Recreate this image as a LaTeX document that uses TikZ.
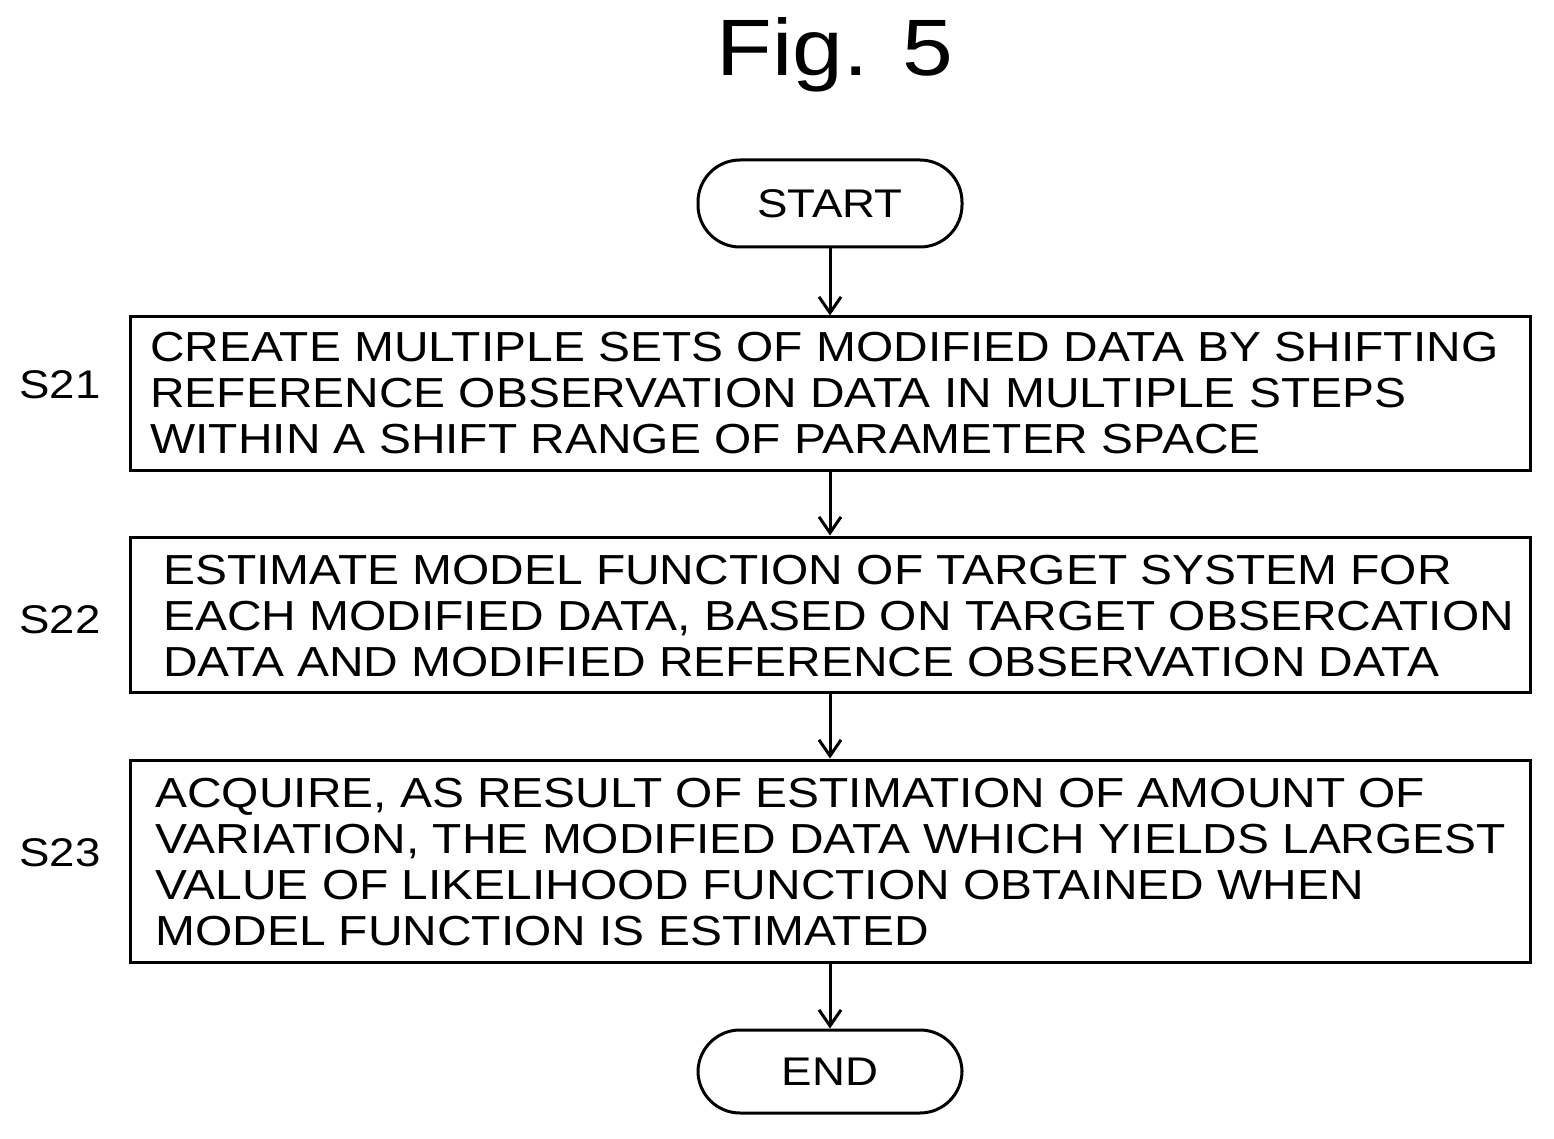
\documentclass[tikz,border=0pt]{standalone}
\usepackage{fontspec}
\setmainfont{Liberation Sans}[FakeStretch=1.14]
\usetikzlibrary{arrows.meta}
\begin{document}
\begin{tikzpicture}[x=0.5pt,y=-0.5pt,
  box/.style={draw,line width=1.5pt,minimum width=700pt,inner sep=0pt},
  term/.style={draw,line width=1.5pt,rounded corners=21pt,minimum width=132pt,inner sep=0pt,font=\fontsize{20}{23}\selectfont},
  txt/.style={anchor=west,align=left,inner sep=0pt,font=\fontsize{21}{23}\selectfont},
  lab/.style={font=\fontsize{20}{23}\selectfont},
  arr/.style={line width=1.5pt,-{Straight Barb[length=8pt,width=11pt]}}]
\useasboundingbox (0,0) rectangle (1554,1139);
\node[font=\fontsize{40}{44}\selectfont] (title) at (835,55) {Fig. 5};
\node[term,minimum height=43.5pt] (start) at (830,203.5) {START};
\node[box,minimum height=76.5pt] (b1) at (830,393.5) {};
\node[box,minimum height=77.5pt] (b2) at (830,614.5) {};
\node[box,minimum height=101pt] (b3) at (830,861) {};
\node[term,minimum height=41.5pt] (end) at (830,1071.5) {END};
\node[txt] (t1) at (150,393) {CREATE MULTIPLE SETS OF MODIFIED DATA BY SHIFTING\\REFERENCE OBSERVATION DATA IN MULTIPLE STEPS\\WITHIN A SHIFT RANGE OF PARAMETER SPACE};
\node[txt] (t2) at (163,616) {ESTIMATE MODEL FUNCTION OF TARGET SYSTEM FOR\\EACH MODIFIED DATA, BASED ON TARGET OBSERCATION\\DATA AND MODIFIED REFERENCE OBSERVATION DATA};
\node[txt] (t3) at (155,862) {ACQUIRE, AS RESULT OF ESTIMATION OF AMOUNT OF\\VARIATION, THE MODIFIED DATA WHICH YIELDS LARGEST\\VALUE OF LIKELIHOOD FUNCTION OBTAINED WHEN\\MODEL FUNCTION IS ESTIMATED};
\node[lab] (s21) at (60,385) {S21};
\node[lab] (s22) at (60,620) {S22};
\node[lab] (s23) at (60,853) {S23};
\draw[arr] (start) -- (b1);
\draw[arr] (b1) -- (b2);
\draw[arr] (b2) -- (b3);
\draw[arr] (b3) -- (end);
\end{tikzpicture}
\end{document}
